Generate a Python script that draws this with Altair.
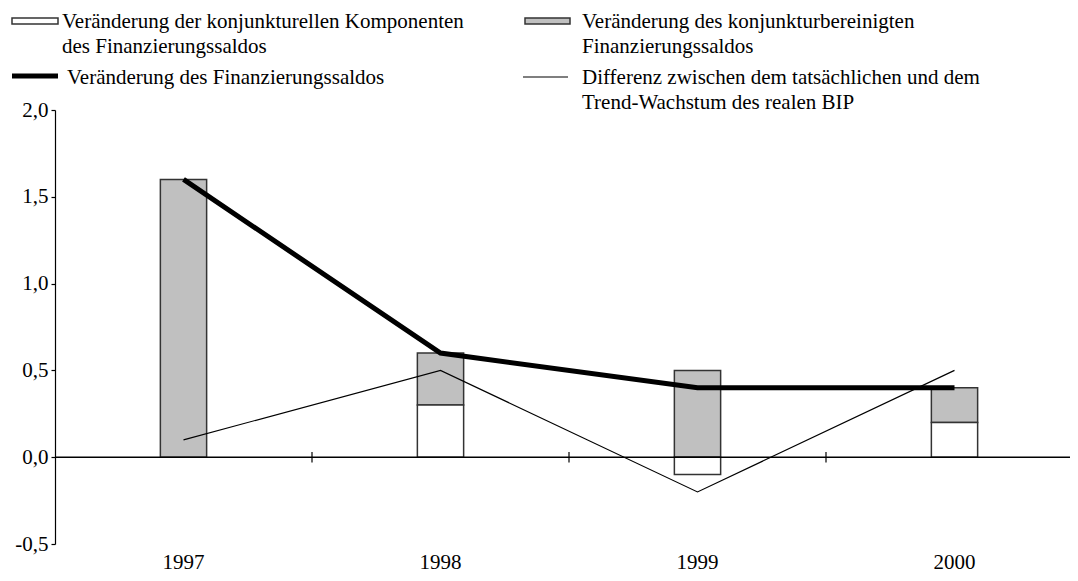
import altair as alt
import pandas as pd

# ---------------- data ----------------
years = ["1997", "1998", "1999", "2000"]
konj_komponente = [0.0, 0.3, -0.1, 0.2]      # white bars
konj_bereinigt = [1.6, 0.3, 0.5, 0.2]        # grey bars
finanzierungssaldo = [1.6, 0.6, 0.4, 0.4]    # thick line
bip_differenz = [0.1, 0.5, -0.2, 0.5]        # thin line
y_ticks = [-0.5, 0.0, 0.5, 1.0, 1.5, 2.0]
boundary_index = [1, 2, 3]                   # category boundaries (x-axis ticks)

leg1 = ["Veränderung der konjunkturellen Komponenten", "des Finanzierungssaldos"]
leg2 = ["Veränderung des konjunkturbereinigten", "Finanzierungssaldos"]
leg3 = ["Veränderung des Finanzierungssaldos"]
leg4 = ["Differenz zwischen dem tatsächlichen und dem", "Trend-Wachstum des realen BIP"]

FONT = "Liberation Serif"
FS = 21
W, H = 1015, 434
XR = 1028
GREY = "#c0c0c0"
EDGE = "#333333"
P_IN, P_OUT = 0.82, 0.41

white_df = pd.DataFrame({"year": years, "y0": [0.0] * 4, "y1": konj_komponente})
base = [max(v, 0.0) for v in konj_komponente]
grey_df = pd.DataFrame({"year": years, "y0": base,
                        "y1": [b + s for b, s in zip(base, konj_bereinigt)]})
white_df = white_df[white_df["y1"] != 0]
line_df = pd.DataFrame({"year": years, "saldo": finanzierungssaldo, "bip": bip_differenz})
tick_df = pd.DataFrame({"pos": boundary_index})

x_scale = alt.Scale(domain=years, range=[0, XR], paddingInner=P_IN, paddingOuter=P_OUT)
y_scale = alt.Scale(domain=[-0.5, 2.0], nice=False, zero=False)

x_axis = alt.Axis(title=None, labelAngle=0, ticks=False, domain=False, grid=False,
                  labelFont=FONT, labelFontSize=FS, labelColor="black",
                  labelPadding=24, labelBaseline="alphabetic")
y_axis = alt.Axis(title=None, values=y_ticks, grid=False,
                  labelExpr="replace(replace(format(datum.value, '.1f'), '.', ','), '\u2212', '-')",
                  labelFont=FONT, labelFontSize=FS, labelColor="black", labelPadding=3,
                  tickSize=4, tickColor="black", domainColor="black", domainWidth=1.2,
                  tickWidth=1.2)

X_AX = alt.X("year:N", scale=x_scale, axis=x_axis)
X = alt.X("year:N", scale=x_scale, axis=None)

grey_bars = alt.Chart(grey_df).mark_bar(fill=GREY, stroke=EDGE, strokeWidth=1.5).encode(
    x=X_AX,
    y=alt.Y("y0:Q", scale=y_scale, axis=y_axis),
    y2="y1:Q",
)
white_bars = alt.Chart(white_df).mark_bar(fill="white", stroke=EDGE, strokeWidth=1.5).encode(
    x=X,
    y=alt.Y("y0:Q", scale=y_scale, axis=y_axis),
    y2="y1:Q",
)
zero_line = alt.Chart(pd.DataFrame({"z": [0.0]})).mark_rule(color="black", strokeWidth=1.5).encode(
    y=alt.Y("z:Q", scale=y_scale, axis=y_axis),
    x=alt.value(0), x2=alt.value(W),
)
ticks = alt.Chart(tick_df).mark_rule(color="black", strokeWidth=1.2).encode(
    x=alt.X("pos:Q", scale=alt.Scale(domain=[0, len(years)], range=[0, XR], nice=False, zero=False),
            axis=None),
    y=alt.Y(datum=0.03, scale=y_scale, axis=y_axis),
    y2=alt.Y2(datum=-0.03),
)
thin = alt.Chart(line_df).mark_line(color="black", strokeWidth=1.2).encode(
    x=X,
    y=alt.Y("bip:Q", scale=y_scale, axis=y_axis),
)
thick = alt.Chart(line_df).mark_line(color="black", strokeWidth=5).encode(
    x=X,
    y=alt.Y("saldo:Q", scale=y_scale, axis=y_axis),
)

one = pd.DataFrame({"a": [0]})
legend_layers = []
legend_layers.append(alt.Chart(one).mark_rect(fill="white", stroke=EDGE, strokeWidth=1.5).encode(
    x=alt.value(-43), x2=alt.value(3), y=alt.value(-92), y2=alt.value(-86)))
legend_layers.append(alt.Chart(one).mark_rect(fill=GREY, stroke=EDGE, strokeWidth=1.5).encode(
    x=alt.value(470), x2=alt.value(515), y=alt.value(-92), y2=alt.value(-86)))
legend_layers.append(alt.Chart(one).mark_rule(color="black", strokeWidth=5).encode(
    x=alt.value(-43), x2=alt.value(3), y=alt.value(-34)))
legend_layers.append(alt.Chart(one).mark_rule(color="black", strokeWidth=1.2).encode(
    x=alt.value(468), x2=alt.value(513), y=alt.value(-33)))


def text_block(lines, x, y):
    return alt.Chart(one).mark_text(
        font=FONT, fontSize=FS, align="left", baseline="alphabetic",
        color="black", lineHeight=25,
    ).encode(x=alt.value(x), y=alt.value(y), text=alt.value(lines))


legend_layers.append(text_block(leg1, 7, -82))
legend_layers.append(text_block(leg2, 527, -82))
legend_layers.append(text_block(leg3, 12, -26))
legend_layers.append(text_block(leg4, 527, -26))

chart = alt.layer(
    grey_bars, white_bars, zero_line, ticks, thin, thick, *legend_layers
).resolve_scale(x="independent").properties(
    width=W, height=H,
    padding={"left": 47, "top": 102, "right": 0, "bottom": 29},
    autosize=alt.AutoSizeParams(type="none"),
    background="white",
).configure_view(stroke=None)

chart.save("out.html", embed_options={"renderer": "svg", "actions": False})
